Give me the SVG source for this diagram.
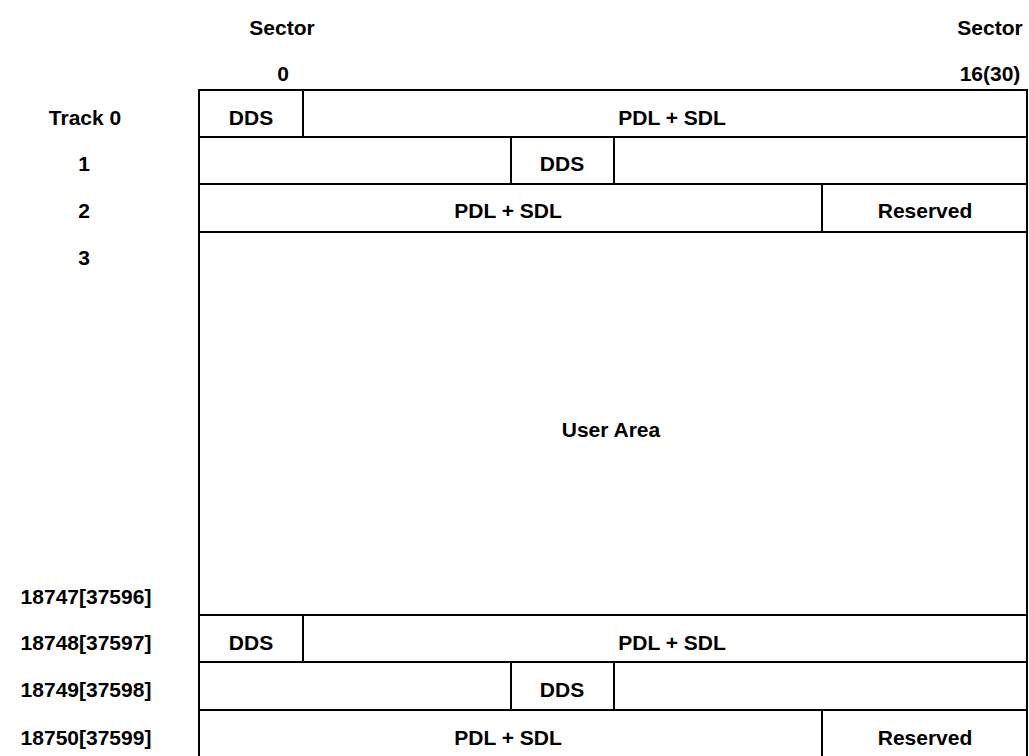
<svg xmlns="http://www.w3.org/2000/svg" width="1029" height="756" viewBox="0 0 1029 756">
<style>
text{font-family:"Liberation Sans",Arial,sans-serif;font-weight:bold;font-size:21px;fill:#000;text-anchor:middle;dominant-baseline:central}
.b{fill:#fff;stroke:#000;stroke-width:2}
.l{stroke:#000;stroke-width:2;fill:none}
</style>
<rect width="1029" height="756" fill="#fff"/>
<g id="headers">
<text x="282" y="27">Sector</text>
<text x="283" y="73">0</text>
<text x="990" y="27">Sector</text>
<text x="990" y="73">16(30)</text>
</g>
<g id="track-labels">
<text x="85" y="117">Track 0</text>
<text x="84" y="163">1</text>
<text x="84" y="210">2</text>
<text x="84" y="257">3</text>
<text x="86" y="596">18747[37596]</text>
<text x="86" y="642">18748[37597]</text>
<text x="86" y="689">18749[37598]</text>
<text x="86" y="737">18750[37599]</text>
</g>
<g id="outer">
<rect class="b" x="199" y="90" width="828" height="668"/>
</g>
<g id="connectors">
<line class="l" x1="199" y1="137" x2="1027" y2="137"/>
<line class="l" x1="199" y1="184" x2="1027" y2="184"/>
<line class="l" x1="199" y1="232" x2="1027" y2="232"/>
<line class="l" x1="199" y1="615" x2="1027" y2="615"/>
<line class="l" x1="199" y1="662" x2="1027" y2="662"/>
<line class="l" x1="199" y1="710" x2="1027" y2="710"/>
</g>
<g id="top-dds0"><rect class="b" x="199" y="90" width="104" height="47"/><text x="251" y="117">DDS</text></g>
<g id="top-pdl0"><text x="672" y="117">PDL + SDL</text></g>
<g id="top-dds1"><rect class="b" x="511" y="137" width="103" height="47"/><text x="562" y="163">DDS</text></g>
<g id="top-pdl2"><text x="508" y="210">PDL + SDL</text></g>
<g id="top-res"><rect class="b" x="822" y="184" width="205" height="48"/><text x="925" y="210">Reserved</text></g>
<g id="user-area"><text x="611" y="429">User Area</text></g>
<g id="bot-dds0"><rect class="b" x="199" y="615" width="104" height="47"/><text x="251" y="642">DDS</text></g>
<g id="bot-pdl0"><text x="672" y="642">PDL + SDL</text></g>
<g id="bot-dds1"><rect class="b" x="511" y="662" width="103" height="48"/><text x="562" y="689">DDS</text></g>
<g id="bot-pdl2"><text x="508" y="737">PDL + SDL</text></g>
<g id="bot-res"><rect class="b" x="822" y="710" width="205" height="48"/><text x="925" y="737">Reserved</text></g>
</svg>
